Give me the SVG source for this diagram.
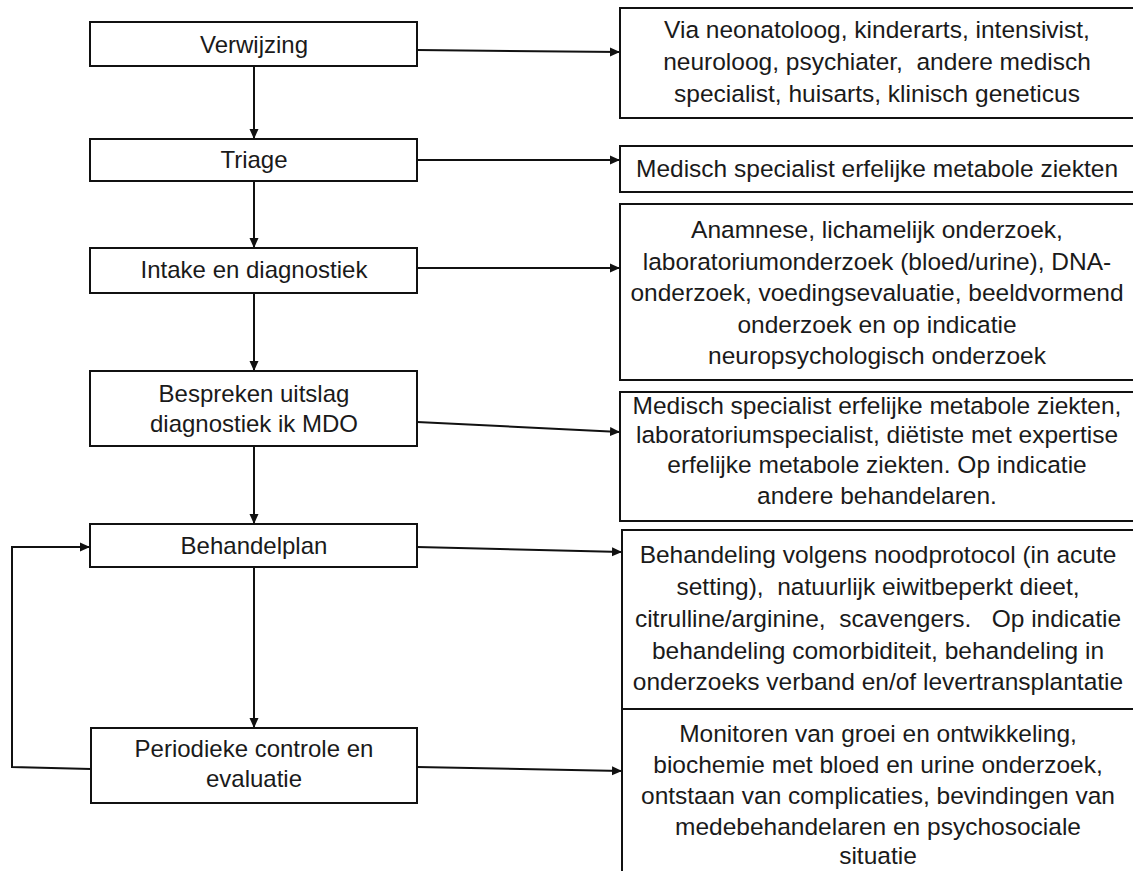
<svg xmlns="http://www.w3.org/2000/svg" width="1133" height="871" viewBox="0 0 1133 871">
<style>
.box{fill:#ffffff;stroke:#111111;stroke-width:2}
.t{font-family:"Liberation Sans",Arial,sans-serif;font-size:24px;fill:#1a1a1a;text-anchor:middle;white-space:pre}
.r{font-size:24.5px}
.c{fill:none;stroke:#111111;stroke-width:2}
</style>
<defs>
<marker id="ah" viewBox="0 0 10 10" refX="10" refY="5" markerWidth="10" markerHeight="10" markerUnits="userSpaceOnUse" orient="auto">
<path d="M0,0.5 L10,5 L0,9.5 z" fill="#111111"/>
</marker>
</defs>
<rect width="1133" height="871" fill="#ffffff"/>
<g id="connectors">
<line class="c" x1="254" y1="66" x2="254" y2="139" marker-end="url(#ah)"/>
<line class="c" x1="254" y1="181" x2="254" y2="248" marker-end="url(#ah)"/>
<line class="c" x1="254" y1="293" x2="254" y2="371" marker-end="url(#ah)"/>
<line class="c" x1="254" y1="446" x2="254" y2="524" marker-end="url(#ah)"/>
<line class="c" x1="254" y1="567" x2="254" y2="728" marker-end="url(#ah)"/>
<line class="c" x1="417" y1="50" x2="620" y2="52" marker-end="url(#ah)"/>
<line class="c" x1="417" y1="160" x2="620" y2="160" marker-end="url(#ah)"/>
<line class="c" x1="417" y1="268" x2="620" y2="268" marker-end="url(#ah)"/>
<line class="c" x1="417" y1="422" x2="620" y2="432" marker-end="url(#ah)"/>
<line class="c" x1="417" y1="547" x2="622" y2="552" marker-end="url(#ah)"/>
<line class="c" x1="417" y1="767" x2="622" y2="771" marker-end="url(#ah)"/>
<polyline class="c" points="91,769 12,767 12,547 90,547" marker-end="url(#ah)"/>
</g>
<g id="n-verwijzing">
<rect class="box" x="90" y="22" width="327" height="44"/>
<text class="t" x="254" y="53">Verwijzing</text>
</g>
<g id="n-triage">
<rect class="box" x="90" y="139" width="327" height="42"/>
<text class="t" x="254" y="168">Triage</text>
</g>
<g id="n-intake">
<rect class="box" x="90" y="248" width="327" height="45"/>
<text class="t" x="254" y="278">Intake en diagnostiek</text>
</g>
<g id="n-bespreken">
<rect class="box" x="90" y="371" width="327" height="75"/>
<text class="t" x="254" y="402">Bespreken uitslag</text>
<text class="t" x="254" y="432">diagnostiek ik MDO</text>
</g>
<g id="n-behandelplan">
<rect class="box" x="90" y="524" width="327" height="43"/>
<text class="t" x="254" y="554">Behandelplan</text>
</g>
<g id="n-periodieke">
<rect class="box" x="91" y="728" width="326" height="75"/>
<text class="t" x="254" y="757">Periodieke controle en</text>
<text class="t" x="254" y="787">evaluatie</text>
</g>
<g id="d-verwijzing">
<rect class="box" x="620" y="8" width="514" height="110"/>
<text class="t r" x="877" y="38">Via neonatoloog, kinderarts, intensivist,</text>
<text class="t r" x="877" y="70">neuroloog, psychiater,  andere medisch</text>
<text class="t r" x="877" y="102">specialist, huisarts, klinisch geneticus</text>
</g>
<g id="d-triage">
<rect class="box" x="620" y="146" width="514" height="46"/>
<text class="t r" x="877" y="177">Medisch specialist erfelijke metabole ziekten</text>
</g>
<g id="d-intake">
<rect class="box" x="620" y="204" width="514" height="176"/>
<text class="t r" x="877" y="238">Anamnese, lichamelijk onderzoek,</text>
<text class="t r" x="877" y="270">laboratoriumonderzoek (bloed/urine), DNA-</text>
<text class="t r" x="877" y="301">onderzoek, voedingsevaluatie, beeldvormend</text>
<text class="t r" x="877" y="333">onderzoek en op indicatie</text>
<text class="t r" x="877" y="364">neuropsychologisch onderzoek</text>
</g>
<g id="d-bespreken">
<rect class="box" x="620" y="392" width="514" height="129"/>
<text class="t r" x="877" y="414">Medisch specialist erfelijke metabole ziekten,</text>
<text class="t r" x="877" y="443">laboratoriumspecialist, diëtiste met expertise</text>
<text class="t r" x="877" y="473">erfelijke metabole ziekten. Op indicatie</text>
<text class="t r" x="877" y="504">andere behandelaren.</text>
</g>
<g id="d-behandelplan">
<rect class="box" x="622" y="530" width="512" height="179"/>
<text class="t r" x="878" y="563">Behandeling volgens noodprotocol (in acute</text>
<text class="t r" x="878" y="595">setting),  natuurlijk eiwitbeperkt dieet,</text>
<text class="t r" x="878" y="627">citrulline/arginine,  scavengers.   Op indicatie</text>
<text class="t r" x="878" y="659">behandeling comorbiditeit, behandeling in</text>
<text class="t r" x="878" y="690">onderzoeks verband en/of levertransplantatie</text>
</g>
<g id="d-periodieke">
<rect class="box" x="622" y="709" width="512" height="175"/>
<text class="t r" x="878" y="742">Monitoren van groei en ontwikkeling,</text>
<text class="t r" x="878" y="773">biochemie met bloed en urine onderzoek,</text>
<text class="t r" x="878" y="804">ontstaan van complicaties, bevindingen van</text>
<text class="t r" x="878" y="835">medebehandelaren en psychosociale</text>
<text class="t r" x="878" y="864">situatie</text>
</g>
</svg>
